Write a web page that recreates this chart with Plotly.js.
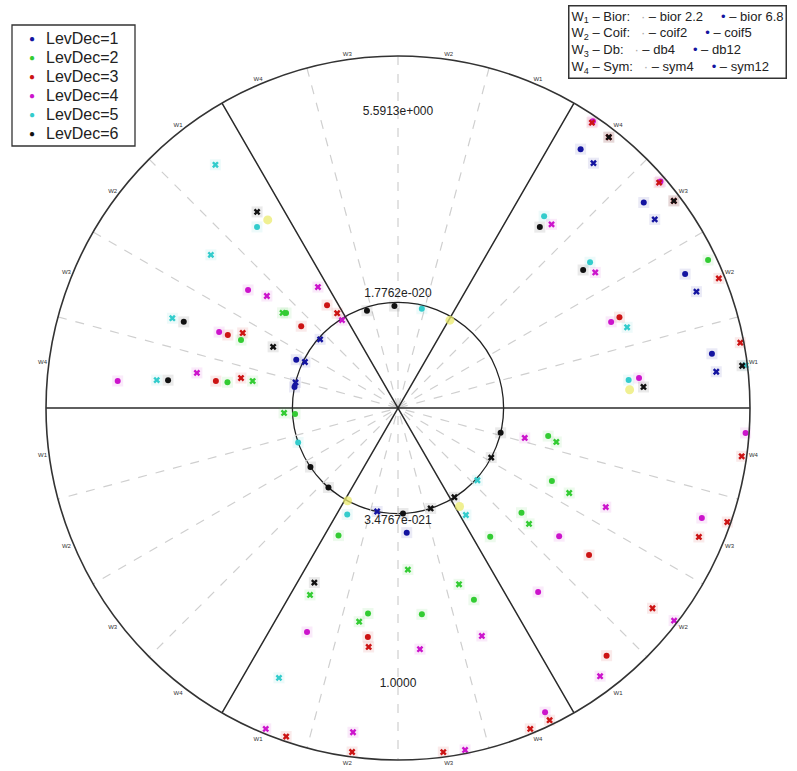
<!DOCTYPE html>
<html>
<head>
<meta charset="utf-8">
<script src="https://cdn.plot.ly/plotly-3.0.1.min.js"></script>
<style>html,body{margin:0;padding:0;background:#fff;}#chart{width:797px;height:771px;}</style>
</head>
<body>
<div id="chart"></div>
<script>
// ---- data (theta in degrees, r normalised: inner circle = 0.3, outer circle = 1) ----
var levNames = ['LevDec=1','LevDec=2','LevDec=3','LevDec=4','LevDec=5','LevDec=6'];
var levColors = ['#1414a0','#33cc33','#cc1414','#cc14cc','#33cccc','#111111'];

var lev1DotTheta = [54.8, 39.9, 25.0, 9.8, 154.6, 168.5, 274.0];
var lev1DotR     = [0.90, 0.91, 0.90, 0.905, 0.32, 0.30, 0.355];
var lev1XTheta   = [51.4, 36.3, 21.3, 6.5, 138.6, 153.7, 166.0, 258.6];
var lev1XR       = [0.89, 0.905, 0.91, 0.91, 0.295, 0.295, 0.30, 0.30];

var lev2DotTheta = [25.5, 349.4, 334.6, 319.7, 305.6, 245.0, 291.6, 261.7, 276.6, 156.6, 171.4, 139.7, 183.3];
var lev2DotR     = [0.976, 0.434, 0.484, 0.46, 0.45, 0.40, 0.586, 0.59, 0.59, 0.486, 0.49, 0.417, 0.293];
var lev2XTheta   = [347.9, 333.6, 318.5, 273.5, 244.8, 259.7, 289.1, 169.5, 182.5, 140.5];
var lev2XR       = [0.46, 0.543, 0.497, 0.46, 0.587, 0.617, 0.53, 0.42, 0.324, 0.425];

var lev3DotTheta = [124.6, 139.8, 156.8, 171.6, 22.3, 322.4, 310.1, 262.5];
var lev3DotR     = [0.355, 0.36, 0.526, 0.523, 0.68, 0.685, 0.92, 0.656];
var lev3XTheta   = [122.7, 154.2, 169.2, 55.8, 52.1, 40.8, 36.9, 22.0, 10.8, 352.0, 340.9, 336.8, 321.8, 251.2, 262.4, 277.5, 292.4, 295.9, 263.0];
var lev3XR       = [0.32, 0.49, 0.454, 0.98, 0.975, 0.98, 0.98, 0.983, 0.99, 0.986, 0.99, 0.93, 0.92, 0.986, 0.986, 0.986, 0.986, 0.986, 0.684];

var lev4DotTheta = [55.8, 40.8, 22.0, 7.1, 355.9, 340.1, 321.5, 307.3, 247.9, 295.8, 141.8, 157.0, 174.5];
var lev4DotR     = [0.985, 0.985, 0.653, 0.69, 0.99, 0.918, 0.585, 0.657, 0.687, 0.96, 0.542, 0.552, 0.80];
var lev4XTheta   = [50.1, 34.5, 346.7, 334.5, 322.4, 307.0, 275.2, 290.2, 247.6, 262.1, 281.1, 123.5, 122.5, 139.5, 170.1];
var lev4XR       = [0.68, 0.68, 0.37, 0.654, 0.99, 0.954, 0.688, 0.69, 0.986, 0.93, 0.99, 0.412, 0.296, 0.49, 0.58];

var lev5DotTheta = [52.7, 37.2, 6.9, 127.9, 76.5, 199.0, 244.5];
var lev5DotR     = [0.685, 0.685, 0.66, 0.652, 0.29, 0.30, 0.335];
var lev5XTheta   = [19.4, 126.9, 140.7, 158.3, 173.4, 7.0, 317.7, 302.4, 246.2];
var lev5XR       = [0.69, 0.864, 0.687, 0.69, 0.69, 0.995, 0.305, 0.36, 0.838];

var lev6DotTheta = [51.9, 36.7, 158.1, 173.1, 107.7, 92.0, 214.0, 228.8, 272.7, 346.4];
var lev6DotR     = [0.653, 0.656, 0.656, 0.658, 0.29, 0.29, 0.30, 0.30, 0.30, 0.30];
var lev6XTheta   = [4.9, 125.7, 244.4, 153.9, 52.1, 36.9, 7.0, 288.0, 302.3, 332.0];
var lev6XR       = [0.70, 0.686, 0.55, 0.395, 0.975, 0.98, 0.985, 0.30, 0.30, 0.30];

var extraTheta = [124.7, 4.5, 59.4, 241.5, 302.0];
var extraR     = [0.65, 0.66, 0.29, 0.30, 0.33];

var wTickAngles = [7.5,22.5,37.5,52.5,67.5,82.5,97.5,112.5,127.5,142.5,157.5,172.5,
                   187.5,202.5,217.5,232.5,247.5,262.5,277.5,292.5,307.5,322.5,337.5,352.5];
var wTickText = ['W1','W2','W3','W4','W1','W2','W3','W4','W1','W2','W3','W4',
                 'W1','W2','W3','W4','W1','W2','W3','W4','W1','W2','W3','W4'];
var sectorAngles = [0, 60, 120];
var subAngles = [15, 30, 45, 75, 90, 105, 135, 150, 165];
var innerRadius = 0.3;
var labelText = ['5.5913e+000', '1.7762e-020', '3.4767e-021', '1.0000'];
var labelTheta = [90, 90, 270, 270];
var labelR = [0.84, 0.325, 0.322, 0.785];

var familyNames = ['Bior', 'Coif', 'Db', 'Sym'];
var familyFirst = ['bior 2.2', 'coif2', 'db4', 'sym4'];
var familySecond = ['bior 6.8', 'coif5', 'db12', 'sym12'];

// ---- build ----
function diameters(angles){
  var r=[], t=[];
  angles.forEach(function(a,i){
    if(i>0){r.push(null); t.push(null);}
    r.push(1,0,1); t.push(a,a,a+180);
  });
  return {r:r,t:t};
}
var traces = [];
var sub = diameters(subAngles);
traces.push({type:'scatterpolar', mode:'lines', r:sub.r, theta:sub.t, connectgaps:false,
  line:{color:'#cfcfcf', width:1.2, dash:'dash'}, hoverinfo:'skip', showlegend:false});
var sec = diameters(sectorAngles);
traces.push({type:'scatterpolar', mode:'lines', r:sec.r, theta:sec.t, connectgaps:false,
  line:{color:'#2a2a2a', width:1.5}, hoverinfo:'skip', showlegend:false});

var dotT=[lev1DotTheta,lev2DotTheta,lev3DotTheta,lev4DotTheta,lev5DotTheta,lev6DotTheta];
var dotR=[lev1DotR,lev2DotR,lev3DotR,lev4DotR,lev5DotR,lev6DotR];
var xT=[lev1XTheta,lev2XTheta,lev3XTheta,lev4XTheta,lev5XTheta,lev6XTheta];
var xR=[lev1XR,lev2XR,lev3XR,lev4XR,lev5XR,lev6XR];

function hexA(h,a){var n=parseInt(h.slice(1),16);return 'rgba('+(n>>16)+','+((n>>8)&255)+','+(n&255)+','+a+')';}

// halos
for(var i=0;i<6;i++){
  traces.push({type:'scatterpolar', mode:'markers', r:dotR[i].concat(xR[i]), theta:dotT[i].concat(xT[i]),
    marker:{symbol:'square', size:11, color:hexA(levColors[i],0.09)}, hoverinfo:'skip', showlegend:false});
}
traces.push({type:'scatterpolar', mode:'markers', r:extraR, theta:extraTheta,
  marker:{symbol:'circle', size:9, color:'rgba(235,235,110,0.75)'}, hoverinfo:'skip', showlegend:false});
for(var i=0;i<6;i++){
  traces.push({type:'scatterpolar', mode:'markers', name:levNames[i], r:dotR[i], theta:dotT[i],
    marker:{symbol:'circle', size:6, color:levColors[i]}, showlegend:false});
}
for(var i=0;i<6;i++){
  traces.push({type:'scatterpolar', mode:'markers', name:levNames[i]+' x', r:xR[i], theta:xT[i],
    marker:{symbol:'x', size:6, color:levColors[i]}, showlegend:false});
}
traces.push({type:'scatterpolar', mode:'text', r:labelR, theta:labelTheta, text:labelText,
  textfont:{family:'Arial, Liberation Sans', size:12, color:'#222'}, hoverinfo:'skip', showlegend:false});

// plot area: 46..750 px horizontally, 56..760 px vertically
function px(x){return (x-46)/704;}
function py(y){return (760-y)/704;}

var annotations = [];
var shapes = [];
// LevDec legend (left)
shapes.push({type:'rect', xref:'paper', yref:'paper', x0:px(12), x1:px(135), y0:py(146), y1:py(25),
  line:{color:'#333', width:1.3}, fillcolor:'rgba(255,255,255,0)'});
for(var i=0;i<6;i++){
  var yy = 39 + i*18.8;
  annotations.push({xref:'paper', yref:'paper', x:px(32), y:py(yy), xanchor:'center', yanchor:'middle',
    text:'●', showarrow:false, font:{size:10, color:levColors[i]}});
  annotations.push({xref:'paper', yref:'paper', x:px(44), y:py(yy), xanchor:'left', yanchor:'middle',
    text:levNames[i], showarrow:false, font:{family:'Arial, Liberation Sans', size:16, color:'#222'}});
}
// wavelet family legend (right)
var nb = '\u00a0';
var lines = familyNames.map(function(f,k){
  return 'W<sub>'+(k+1)+'</sub> – '+f+':'+nb+nb+nb+'<span style="color:#aaa">·</span> – '+familyFirst[k]+
         nb+nb+nb+nb+nb+'<span style="color:#1414a0">•</span> – '+familySecond[k];
});
annotations.push({xref:'paper', yref:'paper', x:px(568), y:py(5), xanchor:'left', yanchor:'top',
  text:lines.join('<br>'), showarrow:false, align:'left', bordercolor:'#333', borderwidth:1.5,
  borderpad:2, bgcolor:'#fff', font:{family:'Arial, Liberation Sans', size:13, color:'#222'}});

var layout = {
  width:797, height:771,
  margin:{l:46, r:47, t:56, b:11},
  paper_bgcolor:'#fff',
  font:{family:'Arial, Liberation Sans', color:'#222'},
  showlegend:false,
  polar:{
    domain:{x:[0,1], y:[0,1]},
    bgcolor:'#fff',
    radialaxis:{range:[0,1], visible:true, showline:false, showticklabels:false, ticks:'',
      tickmode:'array', tickvals:[innerRadius], showgrid:true, gridcolor:'#222', gridwidth:1.3},
    angularaxis:{showline:true, linecolor:'#333', linewidth:1.6, showgrid:false, ticks:'',
      tickmode:'array', tickvals:wTickAngles, ticktext:wTickText,
      tickfont:{size:6, color:'#333'}}
  },
  shapes:shapes,
  annotations:annotations
};
Plotly.newPlot('chart', traces, layout, {displayModeBar:false, staticPlot:true});
</script>
</body>
</html>
